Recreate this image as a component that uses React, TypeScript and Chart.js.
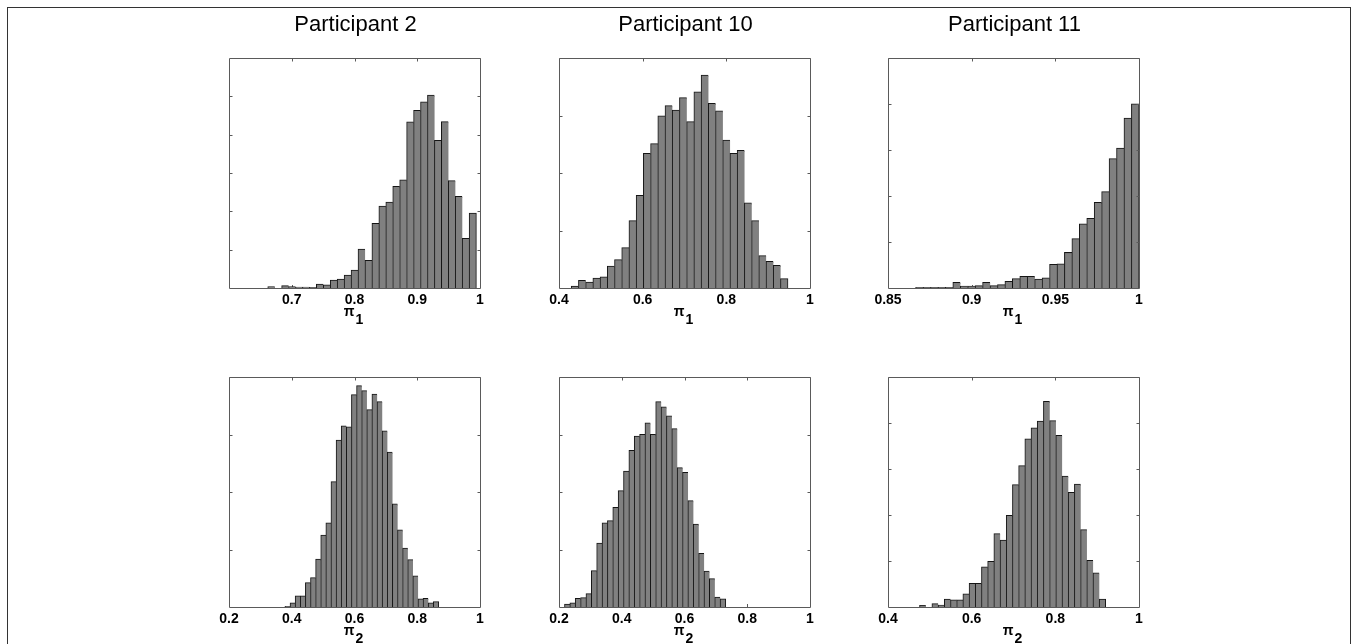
import React, { useEffect, useRef } from 'react';
import { Chart, registerables } from 'chart.js';

Chart.register(...registerables);

const FONT = "'Liberation Sans', Arial, Helvetica, sans-serif";
const AXIS_COLOR = '#5a5a5a';
const BAR_FILL = '#808080';
const BAR_EDGE = '#151515';
const TICK_LEN = 3;

// ---- data ----
const TITLES = ['Participant 2', 'Participant 10', 'Participant 11'];

// Participant 2, pi_1
const P2_PI1_RANGE = [0.662, 0.994];
const P2_PI1_COUNTS = [3, 0, 6, 3, 2, 2, 1, 10, 8, 20, 23, 33, 46, 101, 72, 168, 213, 224, 265, 282, 433, 463, 485, 503, 385, 434, 280, 239, 129, 195];
const P2_PI1_XLIM = [0.6, 1];
const P2_PI1_XTICKS = [0.7, 0.8, 0.9, 1];
const P2_PI1_YMAX = 600;

// Participant 10, pi_1
const P10_PI1_RANGE = [0.4296, 0.947];
const P10_PI1_COUNTS = [3, 13, 10, 17, 19, 38, 49, 70, 117, 161, 234, 251, 299, 317, 309, 331, 289, 341, 370, 321, 308, 257, 234, 239, 148, 117, 56, 46, 39, 16];
const P10_PI1_XLIM = [0.4, 1];
const P10_PI1_XTICKS = [0.4, 0.6, 0.8, 1];
const P10_PI1_YMAX = 400;

// Participant 11, pi_1
const P11_PI1_RANGE = [0.8666, 1.0];
const P11_PI1_COUNTS = [1, 1, 1, 1, 1, 12, 4, 4, 5, 12, 5, 7, 14, 20, 25, 25, 19, 22, 51, 52, 77, 107, 139, 151, 186, 209, 281, 304, 369, 400];
const P11_PI1_XLIM = [0.85, 1];
const P11_PI1_XTICKS = [0.85, 0.9, 0.95, 1];
const P11_PI1_YMAX = 500;

// Participant 2, pi_2
const P2_PI2_RANGE = [0.3787, 0.868];
const P2_PI2_COUNTS = [1, 7, 19, 19, 42, 51, 83, 125, 146, 218, 290, 315, 313, 369, 385, 376, 343, 370, 357, 306, 269, 179, 134, 102, 82, 54, 14, 15, 7, 9];
const P2_PI2_XLIM = [0.2, 1];
const P2_PI2_XTICKS = [0.2, 0.4, 0.6, 0.8, 1];
const P2_PI2_YMAX = 400;

// Participant 10, pi_2
const P10_PI2_RANGE = [0.218, 0.731];
const P10_PI2_COUNTS = [5, 7, 15, 16, 23, 63, 111, 146, 150, 173, 202, 236, 272, 297, 300, 320, 300, 357, 348, 332, 310, 242, 234, 185, 144, 93, 62, 49, 17, 14];
const P10_PI2_XLIM = [0.2, 1];
const P10_PI2_XTICKS = [0.2, 0.4, 0.6, 0.8, 1];
const P10_PI2_YMAX = 400;

// Participant 11, pi_2
const P11_PI2_RANGE = [0.4757, 0.92];
const P11_PI2_COUNTS = [3, 0, 7, 4, 17, 15, 15, 28, 51, 51, 87, 99, 159, 145, 199, 266, 307, 365, 389, 404, 447, 405, 373, 284, 249, 267, 168, 101, 74, 17];
const P11_PI2_XLIM = [0.4, 1];
const P11_PI2_XTICKS = [0.4, 0.6, 0.8, 1];
const P11_PI2_YMAX = 500;

const Y_STEP = 100;

// ---- layout ----
const COL_LEFT = [229, 559, 888];
const AREA_W = 251;
const AREA_H = 230;
const ROW_TOP = [58, 377];
const PAD_X = 34;
const X_AXIS_H = 20;
const TITLE_GAP = 27;

type PanelDef = {
  title?: string;
  sub: string;
  range: number[];
  counts: number[];
  xlim: number[];
  xticks: number[];
  ymax: number;
  col: number;
  row: number;
};

const PANELS: PanelDef[] = [
  { title: TITLES[0], sub: '1', range: P2_PI1_RANGE, counts: P2_PI1_COUNTS, xlim: P2_PI1_XLIM, xticks: P2_PI1_XTICKS, ymax: P2_PI1_YMAX, col: 0, row: 0 },
  { title: TITLES[1], sub: '1', range: P10_PI1_RANGE, counts: P10_PI1_COUNTS, xlim: P10_PI1_XLIM, xticks: P10_PI1_XTICKS, ymax: P10_PI1_YMAX, col: 1, row: 0 },
  { title: TITLES[2], sub: '1', range: P11_PI1_RANGE, counts: P11_PI1_COUNTS, xlim: P11_PI1_XLIM, xticks: P11_PI1_XTICKS, ymax: P11_PI1_YMAX, col: 2, row: 0 },
  { sub: '2', range: P2_PI2_RANGE, counts: P2_PI2_COUNTS, xlim: P2_PI2_XLIM, xticks: P2_PI2_XTICKS, ymax: P2_PI2_YMAX, col: 0, row: 1 },
  { sub: '2', range: P10_PI2_RANGE, counts: P10_PI2_COUNTS, xlim: P10_PI2_XLIM, xticks: P10_PI2_XTICKS, ymax: P10_PI2_YMAX, col: 1, row: 1 },
  { sub: '2', range: P11_PI2_RANGE, counts: P11_PI2_COUNTS, xlim: P11_PI2_XLIM, xticks: P11_PI2_XTICKS, ymax: P11_PI2_YMAX, col: 2, row: 1 },
];

function binCenters(range: number[], n: number): number[] {
  const w = (range[1] - range[0]) / n;
  const out: number[] = [];
  for (let i = 0; i < n; i++) out.push(range[0] + (i + 0.5) * w);
  return out;
}

const matlabAxes = {
  id: 'matlabAxes',
  beforeDatasetsDraw(chart: any, _args: any, opts: any) {
    const { ctx, chartArea: a, scales } = chart;
    const x = scales.x;
    ctx.save();
    ctx.strokeStyle = AXIS_COLOR;
    ctx.lineWidth = 1;
    ctx.beginPath();
    for (const v of opts.xticks) {
      const px = Math.round(x.getPixelForValue(v)) + 0.5;
      ctx.moveTo(px, a.bottom);
      ctx.lineTo(px, a.bottom - TICK_LEN);
    }
    ctx.stroke();
    ctx.restore();
  },
  afterDatasetsDraw(chart: any, _args: any, opts: any) {
    const { ctx, chartArea: a, scales } = chart;
    const x = scales.x;
    const y = scales.y;
    ctx.save();
    ctx.strokeStyle = AXIS_COLOR;
    ctx.lineWidth = 1;
    ctx.beginPath();
    ctx.rect(a.left + 0.5, a.top + 0.5, a.right - a.left, a.bottom - a.top);
    for (const v of opts.xticks) {
      const px = Math.round(x.getPixelForValue(v)) + 0.5;
      ctx.moveTo(px, a.top + 0.5);
      ctx.lineTo(px, a.top + 0.5 + TICK_LEN);
    }
    for (let v = Y_STEP; v < opts.ymax; v += Y_STEP) {
      const py = Math.round(y.getPixelForValue(v)) + 0.5;
      ctx.moveTo(a.left + 0.5, py);
      ctx.lineTo(a.left + 0.5 + TICK_LEN, py);
      ctx.moveTo(a.right + 0.5, py);
      ctx.lineTo(a.right + 0.5 - TICK_LEN, py);
    }
    ctx.stroke();

    const cx = (a.left + a.right) / 2 + 1;
    ctx.fillStyle = '#000';
    if (opts.title) {
      ctx.font = `22px ${FONT}`;
      ctx.textAlign = 'center';
      ctx.textBaseline = 'alphabetic';
      ctx.fillText(opts.title, cx, a.top - TITLE_GAP);
    }
    // axis label: pi with subscript
    ctx.font = `bold 14px ${FONT}`;
    ctx.textAlign = 'left';
    ctx.textBaseline = 'alphabetic';
    const wPi = ctx.measureText('π').width;
    const wSub = ctx.measureText(opts.sub).width;
    const total = wPi + 1 + wSub;
    const x0 = cx - 2 - total / 2;
    ctx.fillText('π', x0, a.bottom + 28);
    ctx.fillText(opts.sub, x0 + wPi + 1, a.bottom + 36);
    ctx.restore();
  },
};

function HistPanel({ p }: { p: PanelDef }) {
  const ref = useRef<HTMLCanvasElement>(null);
  const canvasLeft = COL_LEFT[p.col] - PAD_X;
  const canvasW = AREA_W + 2 * PAD_X;
  const canvasTop = p.row === 0 ? 0 : 330;
  const canvasBottom = p.row === 0 ? 340 : 644;
  const canvasH = canvasBottom - canvasTop;
  const padTop = ROW_TOP[p.row] - canvasTop;
  const padBottom = canvasH - padTop - AREA_H - X_AXIS_H;

  useEffect(() => {
    const centers = binCenters(p.range, p.counts.length);
    const last = p.counts.length - 1;
    const chart = new Chart(ref.current as HTMLCanvasElement, {
      type: 'bar',
      data: {
        datasets: [
          {
            data: p.counts.map((c, i) => ({ x: centers[i], y: c })),
            backgroundColor: BAR_FILL,
            borderColor: BAR_EDGE,
            borderWidth: (ctx: any) => ({ top: 1, left: 1, bottom: 0, right: ctx.dataIndex === last ? 1 : 0 }),
            borderSkipped: 'start',
            barPercentage: 1,
            categoryPercentage: 1,
            inflateAmount: 0.5,
          } as any,
        ],
      },
      options: {
        animation: false,
        responsive: false,
        events: [],
        layout: { padding: { left: PAD_X, right: PAD_X, top: padTop, bottom: padBottom } },
        plugins: {
          legend: { display: false },
          tooltip: { enabled: false },
          matlabAxes: { xticks: p.xticks, ymax: p.ymax, title: p.title, sub: p.sub },
        } as any,
        scales: {
          x: {
            type: 'linear',
            min: p.xlim[0],
            max: p.xlim[1],
            bounds: 'data',
            offset: false,
            grid: { display: false, drawTicks: false, offset: false },
            border: { display: false },
            afterBuildTicks: (s: any) => {
              s.ticks = p.xticks.map((v) => ({ value: v }));
            },
            afterFit: (s: any) => {
              s.height = X_AXIS_H;
            },
            ticks: {
              autoSkip: false,
              maxRotation: 0,
              padding: 4,
              color: '#000',
              font: { family: FONT, size: 14, weight: 'bold' },
              callback: (v: any) => String(Number(v)),
            },
          },
          y: {
            type: 'linear',
            min: 0,
            max: p.ymax,
            display: false,
            afterFit: (s: any) => {
              s.width = 0;
            },
          },
        } as any,
      },
      plugins: [matlabAxes],
    });
    return () => chart.destroy();
  }, []);

  return (
    <canvas
      ref={ref}
      width={canvasW}
      height={canvasH}
      style={{ position: 'absolute', left: canvasLeft, top: canvasTop, width: canvasW, height: canvasH }}
    />
  );
}

export default function App() {
  return (
    <div style={{ position: 'absolute', left: 0, top: 0, width: 1356, height: 644, overflow: 'hidden', background: '#fff' }}>
      <style>{'html,body{margin:0;padding:0;overflow:hidden;background:#fff}'}</style>
      <div
        style={{
          position: 'absolute',
          left: 7,
          top: 7,
          width: 1344,
          height: 660,
          boxSizing: 'border-box',
          borderTop: '1px solid #333',
          borderLeft: '1px solid #333',
          borderRight: '1px solid #333',
        }}
      />
      {PANELS.map((p, i) => (
        <HistPanel key={i} p={p} />
      ))}
    </div>
  );
}
